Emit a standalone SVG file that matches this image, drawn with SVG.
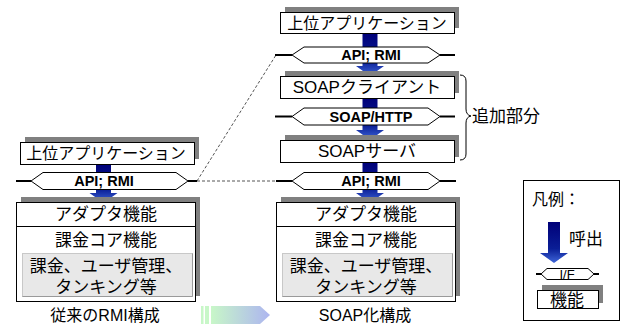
<svg xmlns="http://www.w3.org/2000/svg" width="628" height="324" viewBox="0 0 628 324">
<defs>
<linearGradient id="blue" x1="0" y1="0" x2="0" y2="1">
<stop offset="0" stop-color="#000078"/>
<stop offset="0.65" stop-color="#0a1e96"/>
<stop offset="1" stop-color="#3f66d8"/>
</linearGradient>
<linearGradient id="big" x1="0" y1="0" x2="1" y2="0">
<stop offset="0" stop-color="#c8f7c8"/>
<stop offset="1" stop-color="#adb5f0"/>
</linearGradient>
<style>
.box{fill:#fff;stroke:#000;stroke-width:1}
.sh{fill:#808080}
.ib{fill:#e8e8e8;stroke:#c8c8c8;stroke-width:1}
.hex{fill:#fff;stroke:#000;stroke-width:1}
.ln{stroke:#000;stroke-width:2;fill:none}
.arr{fill:url(#blue)}
.t{font-family:"Liberation Sans","Noto Sans CJK JP",sans-serif;fill:#000;text-anchor:middle}
.b{font-family:"Liberation Sans","Noto Sans CJK JP",sans-serif;font-weight:bold;font-size:14.5px;fill:#000;text-anchor:middle}
.dash{stroke:#555;stroke-width:1;stroke-dasharray:3,2;fill:none}
</style>
</defs>

<g id="connectors">
<path class="dash" d="M197,181 L276,181"/>
<path class="dash" d="M197,181 L276,55"/>
<path class="arr" d="M96,164 H111 V193 H117.5 L103.5,203 L89.5,193 H96 Z"/>
<path class="arr" d="M362.5,33 H377.5 V66 H384 L370,76 L356,66 H362.5 Z"/>
<path class="arr" d="M362.5,98 H377.5 V130 H384 L370,140 L356,130 H362.5 Z"/>
<path class="arr" d="M362.5,162 H377.5 V193 H384 L370,203 L356,193 H362.5 Z"/>
</g>

<!-- Left column -->
<g id="left-app">
<rect class="sh" x="25" y="137" width="174" height="22"/>
<rect class="box" x="20.5" y="142.5" width="174" height="22"/>
<text class="t" x="106" y="159" font-size="16">上位アプリケーション</text>
</g>
<g id="left-api">
<path class="ln" d="M16,181 H31 M188,181 H197"/>
<path class="hex" d="M31,181 L43,172.5 L176,172.5 L188,181 L176,189.5 L43,189.5 Z"/>
<text class="b" x="104" y="186">API; RMI</text>
</g>
<g id="left-func">
<rect class="sh" x="21" y="197" width="179" height="99"/>
<rect class="box" x="16.5" y="202.5" width="179" height="99"/>
<line x1="16.5" y1="226.5" x2="195.5" y2="226.5" stroke="#000" stroke-width="1"/>
<text class="t" x="106" y="220" font-size="17">アダプタ機能</text>
<text class="t" x="106" y="246" font-size="17">課金コア機能</text>
<rect class="ib" x="22.5" y="253.5" width="170" height="43"/>
<path d="M22.5,296.5 H192.5 V253.5" stroke="#9a9a9a" stroke-width="1" fill="none"/>
<text class="t" x="106" y="272" font-size="17">課金、ユーザ管理、</text>
<text class="t" x="106" y="293" font-size="17">タンキング等</text>
</g>
<text class="t" x="105" y="321" font-size="16">従来のRMI構成</text>

<!-- Right column -->
<g id="right-app">
<rect class="sh" x="285" y="7" width="174" height="21"/>
<rect class="box" x="280.5" y="12.5" width="174" height="21"/>
<text class="t" x="367" y="29" font-size="16">上位アプリケーション</text>
</g>
<g id="right-api-top">
<path class="ln" d="M275,55 H292 M440,55 H455"/>
<path class="hex" d="M292,55 L304,47 L428,47 L440,55 L428,63 L304,63 Z"/>
<text class="b" x="371" y="60">API; RMI</text>
</g>
<g id="soap-client">
<rect class="sh" x="285" y="71" width="174" height="22"/>
<rect class="box" x="280.5" y="76.5" width="174" height="22"/>
<text class="t" x="367" y="93" font-size="17">SOAPクライアント</text>
</g>
<g id="soap-http">
<path class="ln" d="M275,116.5 H292 M440,116.5 H455"/>
<path class="hex" d="M292,116.5 L304,108 L428,108 L440,116.5 L428,125 L304,125 Z"/>
<text class="b" x="371" y="121.5">SOAP/HTTP</text>
</g>
<g id="soap-server">
<rect class="sh" x="285" y="135" width="174" height="22"/>
<rect class="box" x="280.5" y="140.5" width="174" height="22"/>
<text class="t" x="367" y="157" font-size="17">SOAPサーバ</text>
</g>
<g id="right-api">
<path class="ln" d="M276,181 H292 M440,181 H456"/>
<path class="hex" d="M292,181 L304,172.5 L428,172.5 L440,181 L428,189.5 L304,189.5 Z"/>
<text class="b" x="371" y="186">API; RMI</text>
</g>
<g id="right-func">
<rect class="sh" x="281" y="197" width="179" height="99"/>
<rect class="box" x="276.5" y="202.5" width="179" height="99"/>
<line x1="276.5" y1="226.5" x2="455.5" y2="226.5" stroke="#000" stroke-width="1"/>
<text class="t" x="366" y="220" font-size="17">アダプタ機能</text>
<text class="t" x="366" y="246" font-size="17">課金コア機能</text>
<rect class="ib" x="282.5" y="253.5" width="170" height="43"/>
<path d="M282.5,296.5 H452.5 V253.5" stroke="#9a9a9a" stroke-width="1" fill="none"/>
<text class="t" x="366" y="272" font-size="17">課金、ユーザ管理、</text>
<text class="t" x="366" y="293" font-size="17">タンキング等</text>
</g>
<text class="t" x="365" y="321" font-size="16">SOAP化構成</text>

<g id="brace">
<path d="M460,75 Q466,75 466,81 V109 Q466,115 471,116 Q466,117 466,123 V154 Q466,160 460,160" stroke="#000" stroke-width="1" fill="none"/>
<text class="t" x="506" y="122" font-size="17">追加部分</text>
</g>

<g id="big-arrow">
<rect x="201" y="306" width="2.5" height="18" fill="#c8f7c8"/>
<rect x="205" y="306" width="4" height="18" fill="#c8f7c8"/>
<path d="M211,306 H260 L270,315 L260,324 H211 Z" fill="url(#big)"/>
</g>

<g id="legend">
<rect x="523.5" y="180.5" width="96" height="140" fill="#fff" stroke="#000" stroke-width="1"/>
<text x="532" y="205" font-size="16" font-family="Liberation Sans, Noto Sans CJK JP, sans-serif">凡例：</text>
<path class="arr" d="M548,222 H560 V253 H568 L554,263 L540,253 H548 Z"/>
<text x="569" y="245" font-size="17" font-family="Liberation Sans, Noto Sans CJK JP, sans-serif">呼出</text>
<path class="ln" d="M536,274 H541 M594,274 H599"/>
<path class="hex" d="M541,274 L547,268.5 L588,268.5 L594,274 L588,279.5 L547,279.5 Z"/>
<text class="t" x="567" y="278.5" font-size="13">I/F</text>
<rect class="sh" x="542" y="285" width="61" height="18"/>
<rect class="box" x="537.5" y="290.5" width="61" height="18"/>
<text class="t" x="567" y="306" font-size="17">機能</text>
</g>
</svg>
